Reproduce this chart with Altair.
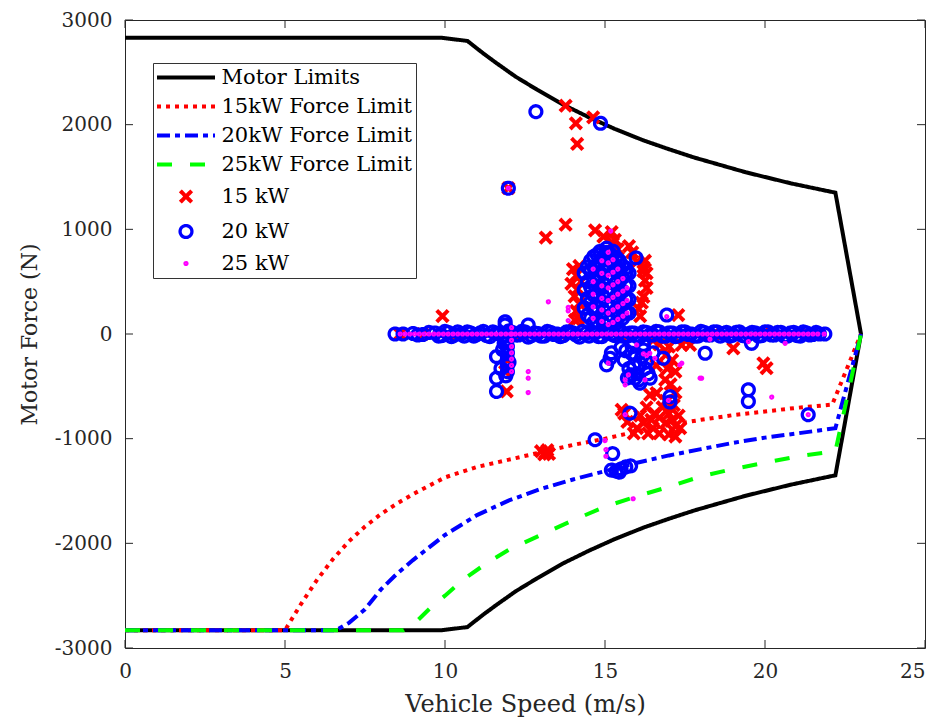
import altair as alt
import pandas as pd

# ---------------- data ----------------
series_names = ["Motor Limits", "15kW Force Limit", "20kW Force Limit", "25kW Force Limit",
                "15 kW", "20 kW", "25 kW"]

# Motor limit outline (top half, then bottom half)
motor_spd_top = [0, 9.9, 10.7, 11.2, 11.6, 12.2, 12.9, 13.7, 14.5, 15.3, 16.2, 17.0, 17.8,
                 18.6, 19.4, 20.0, 20.8, 21.5, 22.2, 23.0]
motor_f_top = [2830, 2830, 2800, 2680, 2590, 2460, 2330, 2190, 2070, 1960, 1850, 1765, 1685,
               1615, 1545, 1500, 1440, 1395, 1350, 0]
motor_spd_bot = [22.2, 21.5, 20.8, 20.0, 19.4, 18.6, 17.8, 17.0, 16.2, 15.3, 14.5, 13.7, 12.9,
                 12.2, 11.6, 11.2, 10.7, 9.9, 0]
motor_f_bot = [-1350, -1395, -1440, -1500, -1545, -1615, -1685, -1765, -1850, -1960, -2070,
               -2190, -2330, -2460, -2590, -2680, -2800, -2830, -2830]

p15_spd = [0, 5.0, 5.5, 6.0, 6.5, 7.0, 7.5, 8.0, 8.5, 9.0, 10.0, 11.0, 12.0, 13.0, 14.0, 15.0,
           16.0, 17.0, 18.0, 19.0, 20.0, 21.0, 22.1, 23.0]
p15_f = [-2830, -2830, -2580, -2350, -2150, -1980, -1840, -1720, -1620, -1530, -1370, -1270,
         -1200, -1130, -1060, -1000, -930, -870, -820, -775, -740, -705, -675, 0]

p20_spd = [0, 6.6, 7.0, 7.5, 8.0, 8.5, 9.0, 10.0, 11.0, 12.0, 13.0, 14.0, 15.0, 16.0, 17.0,
           18.0, 19.0, 20.0, 21.0, 22.2, 23.0]
p20_f = [-2830, -2830, -2760, -2630, -2440, -2290, -2160, -1920, -1730, -1590, -1480, -1390,
         -1310, -1230, -1160, -1100, -1040, -990, -950, -900, 0]

p25_spd = [0, 8.7, 9.1, 9.6, 10.0, 10.6, 11.3, 12.0, 13.0, 14.0, 15.0, 16.0, 17.0, 18.0, 19.0,
           20.0, 21.0, 22.2, 23.0]
p25_f = [-2830, -2830, -2750, -2600, -2500, -2340, -2190, -2060, -1920, -1780, -1650, -1550,
         -1460, -1360, -1290, -1230, -1170, -1120, 0]

# 15 kW operating points (red x)
x15_spd = [13.77, 14.09, 14.13, 14.63, 11.98,
           13.15, 13.77, 14.69, 15.21, 15.25, 15.31, 14.95, 15.4, 9.92, 14.06, 14.17, 17.29, 16.2,
           14.0, 14.1, 13.95, 14.15, 14.05, 14.2, 14.1, 14.25, 14.2,
           15.85, 16.0, 16.2, 16.3, 16.25, 16.3, 16.15, 16.05, 16.2, 15.75, 16.1, 16.25,
           8.6, 9.3, 10.4, 12.4, 13.6, 15.5, 18.4, 20.2, 21.3,
           17.66, 19.01, 19.95, 20.05, 17.4, 11.88, 11.93, 11.95,
           16.5, 16.7, 17.0, 16.9, 17.1, 16.6, 16.95, 17.2, 16.88, 17.05, 16.61, 16.41, 17.2,
           17.15, 16.9, 17.3, 16.7, 16.9, 17.2, 16.5, 16.2, 16.0, 16.35, 16.7, 17.0, 17.35, 16.1,
           16.55, 15.52, 16.3, 17.2, 15.9, 16.8, 17.1, 16.45, 17.0, 15.6, 15.7,
           13.0, 13.1, 13.2, 13.25, 13.15]
x15_f = [2181, 2013, 1816, 2070, 1393,
         921, 1044, 990, 974, 867, 900, 930, 810, 171, 133, 149, 181, 355,
         620, 560, 480, 430, 360, 290, 220, 500, 650,
         780, 690, 640, 580, 510, 440, 300, 240, 600, 840, 170, 700,
         0, 0, 0, 0, 0, 0, 0, 0, 0,
         -105, -137, -280, -327, -105, -359, -549, -250,
         -60, -100, -120, -200, -250, -300, -330, -360, -438, -480, -565, -581, -560,
         -680, -640, -780, -800, -850, -880, -900, -850, -900, -950, -950, -960, -900, -780,
         -760, -724, -700, -980, -950, -700, -820, -820, -760, -760, -840,
         -1120, -1150, -1110, -1145, -1130]

# 20 kW operating points (blue o): band at zero force
band_o_spd = [8.44, 8.69, 9.0, 9.15, 9.31, 9.5, 9.69, 9.8, 9.9, 10.0, 10.1, 10.2, 10.3, 10.4,
              10.5, 10.6, 10.7, 10.8, 10.9, 11.0, 11.1, 11.2, 11.3, 11.4, 11.5, 11.6, 11.7,
              11.8, 11.9, 12.0, 12.1, 12.2, 12.3, 12.4, 12.5, 12.6, 12.7, 12.8, 12.9, 13.0,
              13.1, 13.2, 13.3, 13.4, 13.5, 13.6, 13.7, 13.8, 13.9, 14.0, 14.1, 14.2, 14.3,
              14.4, 14.5, 14.6, 14.7, 14.8, 14.9, 15.0, 15.1, 15.2, 15.3, 15.4, 15.5, 15.6,
              15.7, 15.8, 15.9, 16.0, 16.1, 16.2, 16.3, 16.4, 16.5, 16.6, 16.7, 16.8, 16.9,
              17.0, 17.1, 17.2, 17.3, 17.4, 17.5, 17.6, 17.7, 17.8, 17.9, 18.0, 18.1, 18.2,
              18.3, 18.4, 18.5, 18.6, 18.7, 18.8, 18.9, 19.0, 19.1, 19.2, 19.3, 19.4, 19.5,
              19.6, 19.7, 19.8, 19.9, 20.0, 20.1, 20.2, 20.3, 20.4, 20.5, 20.6, 20.7, 20.8,
              20.9, 21.0, 21.1, 21.2, 21.3, 21.4, 21.5, 21.6, 21.7, 21.87]
band_o_f = [0, 0, 5, -10, -5, 15, 10, -20, -15, 25, 15, -25, -10, 20, 0, -20, 20, 10, -20,
            -5, 10, 25, -15, -25, 20, 5, 0, -20, -20, 30, 15, -10, -10, 25, 20, -30, -15,
            10, 5, -20, -20, 25, 15, -5, 0, -25, -15, 20, 20, 10, -10, -30, 25, 5, -20, 15,
            10, -25, -25, 20, 20, 0, -15, 30, 25, -20, -20, 10, 10, -25, -25, 20, 15, -10,
            -10, 25, 20, -20, -20, 10, 10, -25, -15, 20, 20, -5, 0, -20, -20, 25, 15, -10,
            -10, 20, 20, -20, 5, 15, -20, -10, 15, 20, -15, -20, 0, 15, 10, -20, -15, 20,
            20, -10, -10, 15, 15, -20, -20, 10, 15, -15, -20, 20, 10, -10, -5, 15, 0, 0]
# 20 kW points away from the band
o_extra_spd = [12.84, 14.86, 11.98,
               14.35, 14.35, 14.35, 14.45, 14.45, 14.45, 14.45,
               14.55, 14.55, 14.55, 14.55, 14.55,
               14.65, 14.65, 14.65, 14.65, 14.65, 14.65,
               14.75, 14.75, 14.75, 14.75, 14.75, 14.75,
               14.85, 14.85, 14.85, 14.85, 14.85, 14.85,
               14.95, 14.95, 14.95, 14.95, 14.95, 14.95,
               15.05, 15.05, 15.05, 15.05, 15.05, 15.05, 15.05,
               15.15, 15.15, 15.15, 15.15, 15.15, 15.15, 15.15,
               15.25, 15.25, 15.25, 15.25, 15.25, 15.25,
               15.35, 15.35, 15.35, 15.35, 15.35, 15.35,
               15.45, 15.45, 15.45, 15.45, 15.45, 15.45,
               15.55, 15.55, 15.55, 15.55, 15.55,
               15.65, 15.65, 15.65, 15.65, 15.65,
               15.75, 15.75, 15.75, 15.75,
               15.97, 16.93, 11.88, 12.6, 11.88,
               15.16, 15.05, 15.2, 15.83, 16.09, 15.94, 16.41, 16.09, 16.82, 16.2, 16.5, 15.5,
               15.6, 15.75, 15.9, 16.0, 16.25, 15.85, 16.15, 16.3, 15.7, 15.95, 16.05, 15.8,
               16.35, 15.65, 16.2,
               11.61, 11.61, 11.61, 11.9, 11.95, 11.95, 11.95, 11.95, 11.95, 11.9, 11.75,
               11.85, 12.0, 11.8,
               18.13, 19.58, 19.48, 19.48, 21.35, 17.03, 17.03, 15.78, 14.69, 15.24, 15.2,
               15.35, 15.5, 15.65, 15.8, 15.45]
o_extra_f = [2124, 2013, 1393,
             250, 420, 584, 180, 340, 500, 640,
             150, 300, 450, 600, 700,
             110, 230, 370, 510, 640, 740,
             120, 250, 380, 520, 650, 760,
             170, 300, 430, 560, 690, 790,
             100, 220, 350, 480, 610, 740,
             150, 280, 410, 540, 670, 780, 820,
             120, 250, 380, 510, 640, 770, 700,
             160, 290, 420, 550, 680, 790,
             100, 230, 360, 490, 620, 730,
             170, 300, 430, 560, 680, 700,
             150, 280, 410, 540, 650,
             200, 330, 460, 580, 630,
             200, 330, 460, 580,
             727, 181, 117, 86, 86,
             -232, -295, -180, -184, -279, -422, -422, -470, -232, -152, -180, -130,
             -250, -330, -300, -380, -330, -120, -220, -260, -420, -200, -440, -390,
             -380, -160, -100,
             -216, -422, -549, -60, -120, -180, -240, -300, -360, -400, -330,
             -90, -270, -150,
             -184, -89, -533, -645, -771, -600, -650, -756, -1010, -1143, -1300,
             -1310, -1290, -1270, -1260, -1320]

# 25 kW operating points (magenta dots)
band_d_spd = [8.6, 8.75, 8.9, 9.05, 9.2, 9.35, 9.5, 9.65, 9.8, 9.95, 10.1, 10.25, 10.4, 10.55,
              10.7, 10.85, 11.0, 11.15, 11.3, 11.45, 11.6, 11.75, 11.9, 12.05, 12.2, 12.35,
              12.5, 12.65, 12.8, 12.95, 13.1, 13.25, 13.4, 13.55, 13.7, 13.85, 14.0, 14.15,
              14.3, 14.45, 14.6, 14.75, 14.9, 15.05, 15.2, 15.35, 15.5, 15.65, 15.8, 15.95,
              16.1, 16.25, 16.4, 16.55, 16.7, 16.85, 17.0, 17.15, 17.3, 17.45, 17.6, 17.75,
              17.9, 18.05, 18.2, 18.35, 18.5, 18.65, 18.8, 18.95, 19.1, 19.25, 19.4, 19.55,
              19.7, 19.85, 20.0, 20.15, 20.3, 20.45, 20.6, 20.75, 20.9, 21.05, 21.2, 21.35,
              21.5, 21.65, 21.85]
band_d_f = [0, 0, 0, 0, 0, 0, 0, 0, 0, 0, 0, 0, 0, 0, 0, 0, 0, 0, 0, 0, 0, 0, 0, 0, 0, 0,
            0, 0, 0, 0, 0, 0, 0, 0, 0, 0, 0, 0, 0, 0, 0, 0, 0, 0, 0, 0, 0, 0, 0, 0, 0, 0,
            0, 0, 0, 0, 0, 0, 0, 0, 0, 0, 0, 0, 0, 0, 0, 0, 0, 0, 0, 0, 0, 0, 0, 0, 0, 0,
            0, 0, 0, 0, 0, 0, 0, 0, 0, 0, 0]
d_extra_spd = [11.98, 15.18, 13.23, 13.85, 13.85, 13.85, 16.93,
               14.63, 14.63, 14.63, 14.63, 14.63,
               14.9, 14.9, 14.9, 14.9, 14.9, 14.9,
               15.1, 15.1, 15.1, 15.1, 15.1, 15.1, 15.1,
               15.25, 15.25, 15.25, 15.25, 15.25, 15.25,
               15.4, 15.4, 15.4, 15.4, 15.4,
               15.56, 15.56, 15.56, 15.56,
               15.69, 15.69, 15.69,
               15.99, 16.2, 16.3, 15.63, 15.63, 15.73, 15.1, 17.34, 17.97, 16.4, 16.56, 16.25,
               16.98, 15.63, 15.0, 15.03, 15.03, 15.88, 12.6, 12.6, 12.6, 18.28, 19.48, 20.63,
               18.02, 20.21, 21.35, 17.4,
               12.08, 12.08, 12.08, 12.08, 12.08, 12.08, 12.08, 12.08]
d_extra_f = [1393, 984, 308, 254, 222, 127, 165,
             150, 260, 380, 500, 620,
             120, 230, 340, 460, 580, 700,
             90, 200, 320, 440, 560, 680, 780,
             110, 230, 350, 470, 590, 710,
             140, 260, 380, 500, 620,
             170, 290, 410, 530,
             200, 320, 440,
             -105, -190, -205, -438, -486, -390, -279, -295, -422, -184, -232, -438,
             -635, -771, -1019, -1105, -1168, -1574, -359, -422, -559, -50, -73, -89,
             -422, -603, -771, -279,
             60, 0, -60, -120, -180, -240, -300, -359]

x_ticks = [0, 5, 10, 15, 20, 25]
y_ticks = [-3000, -2000, -1000, 0, 1000, 2000, 3000]

# ---------------- tables ----------------
def line_df(name, xs, ys):
    return pd.DataFrame({"speed": xs, "force": ys, "series": name, "i": range(len(xs))})

lines = pd.concat([
    line_df("Motor Limits", motor_spd_top + motor_spd_bot, motor_f_top + motor_f_bot),
    line_df("15kW Force Limit", p15_spd, p15_f),
    line_df("20kW Force Limit", p20_spd, p20_f),
    line_df("25kW Force Limit", p25_spd, p25_f),
], ignore_index=True)

points = pd.concat([
    pd.DataFrame({"speed": x15_spd, "force": x15_f, "series": "15 kW"}),
    pd.DataFrame({"speed": band_o_spd + o_extra_spd, "force": band_o_f + o_extra_f, "series": "20 kW"}),
    pd.DataFrame({"speed": band_d_spd + d_extra_spd, "force": band_d_f + d_extra_f, "series": "25 kW"}),
], ignore_index=True)

# ---------------- styling ----------------
FONT = "DejaVu Serif"
TXT = "#262626"
W, H = 800, 628

color_scale = alt.Scale(domain=series_names,
                        range=["#000000", "#ff0000", "#0000ff", "#00ff00", "#ff0000", "#0000ff", "#ff00ff"])
dash_scale = alt.Scale(domain=series_names,
                       range=[[1, 0], [4, 5], [13, 5, 5, 5], [15, 18], [1, 0], [1, 0], [1, 0]])
width_scale = alt.Scale(type="ordinal", domain=series_names, range=[4, 4, 4, 4, 4, 3.3, 3])
size_scale = alt.Scale(type="ordinal", domain=series_names, range=[100, 100, 100, 100, 130, 140, 5])
LINE_PATH = "M-5.8,0H5.8"
shape_scale = alt.Scale(domain=series_names,
                        range=[LINE_PATH, LINE_PATH, LINE_PATH, LINE_PATH,
                               "M-1,-1L1,1M-1,1L1,-1", "circle", "circle"])

legend = alt.Legend(title=None, orient="none", legendX=28, legendY=43,
                    fillColor="white", strokeColor="#333333", padding=4,
                    labelFont=FONT, labelFontSize=21, labelColor="#000000",
                    labelLimit=400, labelOffset=25, symbolOffset=18.5, rowPadding=7)

xscale = alt.Scale(domain=[0, 25], nice=False, zero=False)
yscale = alt.Scale(domain=[-3000, 3000], nice=False, zero=False)

xaxis = alt.Axis(values=x_ticks, title="Vehicle Speed (m/s)", grid=False, ticks=False,
                 domain=False, labelFlush=False, labelPadding=13, titlePadding=11,
                 labelAlign={"condition": {"test": "datum.value == 25", "value": "right"},
                             "value": "center"},
                 labelFontSize=20, titleFontSize=24)
yaxis = alt.Axis(values=y_ticks, title="Motor Force (N)", grid=False, ticks=False,
                 domain=False, labelFlush=False, labelPadding=13, titlePadding=13,
                 labelExpr="'' + datum.value", labelFontSize=20, titleFontSize=22)

X_ENC = alt.X("speed:Q", scale=xscale, axis=xaxis, title="Vehicle Speed (m/s)")
Y_ENC = alt.Y("force:Q", scale=yscale, axis=yaxis, title="Motor Force (N)")

line_layer = alt.Chart(lines).mark_line(strokeCap="butt").encode(
    x=X_ENC, y=Y_ENC,
    color=alt.Color("series:N", scale=color_scale, legend=legend),
    strokeDash=alt.StrokeDash("series:N", scale=dash_scale, legend=legend),
    strokeWidth=alt.StrokeWidth("series:N", scale=width_scale, legend=legend),
    detail="series:N",
    order="i:Q",
)

point_layer = alt.Chart(points).mark_point(filled=False, opacity=1).encode(
    x=X_ENC, y=Y_ENC,
    color=alt.Color("series:N", scale=color_scale, legend=legend),
    shape=alt.Shape("series:N", scale=shape_scale, legend=legend),
    size=alt.Size("series:N", scale=size_scale, legend=legend),
    strokeWidth=alt.StrokeWidth("series:N", scale=width_scale, legend=legend),
    strokeDash=alt.StrokeDash("series:N", scale=dash_scale, legend=legend),
)

xt = pd.DataFrame({"speed": x_ticks})
yt = pd.DataFrame({"force": y_ticks})
tick_bottom = alt.Chart(xt).mark_rule(color=TXT, strokeWidth=1).encode(
    x=X_ENC, y=alt.value(H), y2=alt.value(H - 8))
tick_top = alt.Chart(xt).mark_rule(color=TXT, strokeWidth=1).encode(
    x=X_ENC, y=alt.value(0), y2=alt.value(8))
tick_left = alt.Chart(yt).mark_rule(color=TXT, strokeWidth=1).encode(
    y=Y_ENC, x=alt.value(0), x2=alt.value(8))
tick_right = alt.Chart(yt).mark_rule(color=TXT, strokeWidth=1).encode(
    y=Y_ENC, x=alt.value(W), x2=alt.value(W - 8))

chart = alt.layer(
    line_layer, point_layer, tick_bottom, tick_top, tick_left, tick_right
).properties(
    width=W, height=H,
    autosize=alt.AutoSizeParams(type="none"),
    padding={"left": 117, "top": 12, "right": 6, "bottom": 72},
).configure_view(
    stroke=TXT, strokeWidth=1
).configure_axis(
    labelFont=FONT, titleFont=FONT, labelColor=TXT, titleColor=TXT,
    titleFontWeight="normal",
).configure_legend(
    strokeWidth=1, cornerRadius=0,
)

chart.save("out.html", embed_options={"renderer": "svg", "actions": False})
